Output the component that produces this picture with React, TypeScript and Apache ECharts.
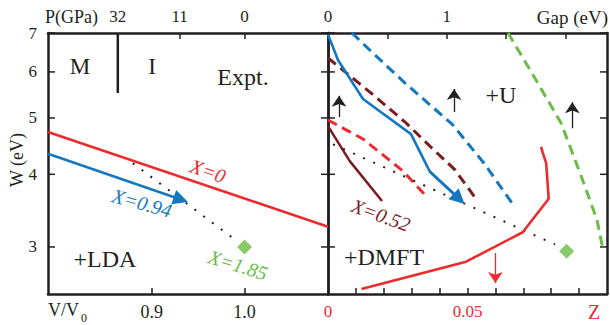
import React, { useEffect, useRef } from "react";
import * as echarts from "echarts";

// ---------- axes ----------
const VV_RANGE = [0.788, 1.09];
const VV_TICKS = [0.9, 1.0];
const P_LABELS = ["32", "11", "0"];
const P_AT_VV = [0.8633, 0.93, 1.0];
const P_TICKS_VV = [0.93, 1.0];
const W_RANGE = [2.49, 7];
const W_TICKS = [3, 4, 5, 6, 7];
const GAP_RANGE = [0, 2.35];
const GAP_TICKS = [0.5, 1, 1.5, 2];
const GAP_LABELS = [0, 1];
const Z_RANGE = [0, 0.1];
const Z_TICKS = [0.01, 0.02, 0.03, 0.04, 0.05, 0.06, 0.07, 0.08, 0.09];
const Z_LABELS = [0, 0.05];

// ---------- left panel (LDA, V/V0) ----------
const LDA_X0_VV = [0.788, 1.09];
const LDA_X0_W = [4.73, 3.25];
const LDA_X094_VV = [0.788, 0.9313];
const LDA_X094_W = [4.34, 3.62];
const LDA_TREND_VV = [0.8795, 0.9906];
const LDA_TREND_W = [4.18, 3.08];
const EXPT_VV = [1.0];
const EXPT_VV_W = [3.0];
const MI_VV = [0.8633, 0.8633];
const MI_W = [7, 5.52];

// ---------- right panel (gap / Z) ----------
const DMFT_X094_GAP = [0, 0.084, 0.295, 0.699, 0.859, 1.104];
const DMFT_X094_W = [6.96, 6.29, 5.39, 4.69, 4.04, 3.63];
const U_X094_GAP = [0.202, 0.37, 0.649, 1.045, 1.314, 1.575];
const U_X094_W = [7.0, 6.49, 5.74, 4.88, 4.18, 3.51];
const U_X185_GAP = [1.516, 1.727, 1.963, 2.123, 2.266, 2.317];
const U_X185_W = [7.0, 5.93, 4.9, 4.02, 3.34, 2.96];
const U_X052_GAP = [0, 0.042, 0.371, 0.649, 0.859, 1.07, 1.238];
const U_X052_W = [6.34, 6.24, 5.5, 4.92, 4.47, 4.07, 3.65];
const DMFT_X052_GAP = [0, 0.185, 0.455];
const DMFT_X052_W = [4.84, 4.21, 3.6];
const U_X0_GAP = [0, 0.16, 0.295, 0.463, 0.632, 0.842];
const U_X0_W = [4.96, 4.76, 4.6, 4.32, 4.05, 3.64];
const U_X0_NEG_GAP = [-0.11, 0];
const U_X0_NEG_W = [5.06, 4.96];
const TREND_GAP = [-0.126, 1.912];
const TREND_GAP_W = [4.67, 3.03];
const EXPT_GAP = [2.01];
const EXPT_GAP_W = [2.95];
const DMFT_X0_Z = [0.012, 0.0495, 0.0698, 0.0791, 0.0782, 0.077, 0.0764];
const DMFT_X0_W = [2.54, 2.83, 3.18, 3.63, 4.18, 4.35, 4.46];
const UP_ARROW_GAP = [0.093, 1.062, 2.058];
const UP_ARROW_FROM_W = [5.02, 5.12, 4.8];
const UP_ARROW_TO_W = [5.46, 5.61, 5.32];
const Z_ARROW = [0.06, 0.06];
const Z_ARROW_W = [2.93, 2.6];

// ---------- styles ----------
const RED = "#ec2b2f";
const BLUE = "#1477c0";
const GREEN = "#6abd45";
const MAROON = "#7b1b1f";
const INK = "#231f20";
const SERIF = "Liberation Serif";
const DASH = [10, 6];
const DOT = [2, 9];

const pairs = (xs: number[], ys: number[]) => xs.map((x, i) => [x, ys[i]]);

const line = (xi: number, yi: number, xs: number[], ys: number[], color: string, width: number, type: any, extra: any = {}) => ({
  type: "line",
  xAxisIndex: xi,
  yAxisIndex: yi,
  data: pairs(xs, ys),
  symbol: "none",
  showSymbol: false,
  silent: true,
  z: 3,
  lineStyle: { color, width, type, cap: "butt" },
  ...extra,
});

const arrows = (xi: number, yi: number, segs: number[][][], color: string, width: number, symbol: string, size: any) => ({
  type: "lines",
  coordinateSystem: "cartesian2d",
  xAxisIndex: xi,
  yAxisIndex: yi,
  symbol: ["none", symbol],
  symbolSize: size,
  silent: true,
  z: 4,
  lineStyle: { color, width, opacity: 1, curveness: 0 },
  data: segs.map((c) => ({ coords: c })),
});

const diamond = (xi: number, yi: number, xs: number[], ys: number[]) => ({
  type: "scatter",
  xAxisIndex: xi,
  yAxisIndex: yi,
  data: pairs(xs, ys),
  symbol: "diamond",
  symbolSize: 15,
  silent: true,
  z: 5,
  itemStyle: { color: GREEN },
});

const axisLine = { show: true, onZero: false, lineStyle: { color: INK, width: 2.5 } };
const tickStyle = { color: INK, width: 1.5 };

const yTicks = (xi: number, yi: number, xMin: number, xMax: number, withLabels: boolean) => ({
  type: "custom",
  xAxisIndex: xi,
  yAxisIndex: yi,
  clip: false,
  silent: true,
  z: 10,
  data: W_TICKS.map((w) => [xMin, w]),
  encode: { x: 0, y: 1 },
  renderItem: (params: any, api: any) => {
    const w = api.value(1);
    const pL = api.coord([xMin, w]);
    const pR = api.coord([xMax, w]);
    const children: any[] = [
      { type: "line", shape: { x1: pL[0], y1: pL[1], x2: pL[0] + 7, y2: pL[1] }, style: { stroke: INK, lineWidth: 1.5 } },
      { type: "line", shape: { x1: pR[0] - 7, y1: pR[1], x2: pR[0], y2: pR[1] }, style: { stroke: INK, lineWidth: 1.5 } },
    ];
    if (withLabels) {
      children.push({
        type: "text",
        x: pL[0] - 11,
        y: pL[1],
        style: { text: String(w), align: "right", verticalAlign: "middle", fontSize: 17, fontFamily: SERIF, fill: INK },
      });
    }
    return { type: "group", children };
  },
});

const txt = (text: string, x: number, y: number, o: any = {}) => ({
  type: "text",
  x,
  y,
  rotation: o.rotation || 0,
  z: 100,
  silent: true,
  style: {
    text,
    fill: o.color || INK,
    fontSize: o.size || 18,
    fontFamily: SERIF,
    fontStyle: o.italic ? "italic" : "normal",
    align: o.align || "center",
    verticalAlign: "middle",
  },
});

const option: any = {
  animation: false,
  backgroundColor: "#ffffff",
  textStyle: { fontFamily: SERIF },
  grid: [
    { left: 48, top: 33, width: 280, height: 261 },
    { left: 328, top: 33, width: 279, height: 261 },
  ],
  xAxis: [
    {
      gridIndex: 0, type: "value", position: "bottom", min: VV_RANGE[0], max: VV_RANGE[1],
      axisLine, splitLine: { show: false },
      axisTick: { show: true, inside: true, length: 6, customValues: VV_TICKS, lineStyle: tickStyle },
      axisLabel: { customValues: VV_TICKS, formatter: (v: number) => v.toFixed(1), margin: 9, color: INK, fontSize: 18, fontFamily: SERIF },
    },
    {
      gridIndex: 0, type: "value", position: "top", min: VV_RANGE[0], max: VV_RANGE[1],
      axisLine, splitLine: { show: false },
      axisTick: { show: true, inside: true, length: 6, customValues: P_TICKS_VV, lineStyle: tickStyle },
      axisLabel: {
        customValues: P_AT_VV,
        formatter: (v: number) => P_LABELS[P_AT_VV.findIndex((p) => Math.abs(p - v) < 1e-6)] ?? "",
        margin: 8, color: INK, fontSize: 17, fontFamily: SERIF,
      },
    },
    {
      gridIndex: 1, type: "value", position: "top", min: GAP_RANGE[0], max: GAP_RANGE[1],
      axisLine, splitLine: { show: false },
      axisTick: { show: true, inside: true, length: 6, customValues: GAP_TICKS, lineStyle: tickStyle },
      axisLabel: { customValues: GAP_LABELS, formatter: (v: number) => String(v), margin: 8, color: INK, fontSize: 17, fontFamily: SERIF },
    },
    {
      gridIndex: 1, type: "value", position: "bottom", min: Z_RANGE[0], max: Z_RANGE[1],
      axisLine, splitLine: { show: false },
      axisTick: { show: true, inside: true, length: 6, customValues: Z_TICKS, lineStyle: tickStyle },
      axisLabel: { customValues: Z_LABELS, formatter: (v: number) => (v === 0 ? "0" : v.toFixed(2)), margin: 9, color: RED, fontSize: 17, fontFamily: SERIF },
    },
  ],
  yAxis: [0, 0, 1, 1].map((g, i) => ({
    gridIndex: g, type: "log", position: i % 2 === 0 ? "left" : "right", min: W_RANGE[0], max: W_RANGE[1],
    axisLine, axisTick: { show: false }, axisLabel: { show: false }, splitLine: { show: false },
  })),
  series: [
    // left panel
    line(0, 0, MI_VV, MI_W, INK, 2.5, "solid"),
    line(0, 0, LDA_X0_VV, LDA_X0_W, RED, 2.6, "solid"),
    arrows(0, 0, [pairs(LDA_X094_VV, LDA_X094_W)], BLUE, 2.6, "triangle", 15),
    line(0, 0, LDA_TREND_VV, LDA_TREND_W, INK, 2, DOT),
    diamond(0, 0, EXPT_VV, EXPT_VV_W),
    // right panel, gap axis
    line(2, 2, U_X094_GAP, U_X094_W, BLUE, 3, DASH),
    line(2, 2, U_X185_GAP, U_X185_W, GREEN, 3, DASH),
    line(2, 2, U_X052_GAP, U_X052_W, MAROON, 3, DASH),
    line(2, 2, U_X0_GAP, U_X0_W, RED, 3, DASH),
    line(2, 2, U_X0_NEG_GAP, U_X0_NEG_W, RED, 2, DOT, { clip: false }),
    line(2, 2, DMFT_X052_GAP, DMFT_X052_W, MAROON, 2.5, "solid"),
    line(2, 2, DMFT_X094_GAP, DMFT_X094_W, BLUE, 2.6, "solid"),
    arrows(2, 2, [pairs(DMFT_X094_GAP.slice(-2), DMFT_X094_W.slice(-2))], BLUE, 2.6, "triangle", 15),
    line(2, 2, TREND_GAP, TREND_GAP_W, INK, 2, DOT, { clip: false }),
    diamond(2, 2, EXPT_GAP, EXPT_GAP_W),
    arrows(2, 2, UP_ARROW_GAP.map((g, i) => [[g, UP_ARROW_FROM_W[i]], [g, UP_ARROW_TO_W[i]]]), INK, 1.3, "arrow", [6, 11]),
    // right panel, Z axis
    line(3, 2, DMFT_X0_Z, DMFT_X0_W, RED, 2.6, "solid"),
    arrows(3, 2, [pairs(Z_ARROW, Z_ARROW_W)], RED, 1.3, "arrow", [6, 11]),
    // y ticks / labels
    yTicks(0, 0, VV_RANGE[0], VV_RANGE[1], true),
    yTicks(2, 2, GAP_RANGE[0], GAP_RANGE[1], false),
  ],
  graphic: [
    txt("P(GPa)", 45, 17, { align: "left", size: 18 }),
    txt("Gap (eV)", 608, 17, { align: "right", size: 19 }),
    txt("W (eV)", 17, 160, { rotation: Math.PI / 2, size: 18 }),
    txt("V/V", 48, 310, { align: "left", size: 18 }),
    txt("0", 81, 318, { align: "left", size: 12 }),
    txt("Z", 594, 312, { color: RED, size: 20 }),
    txt("M", 80, 66, { size: 23 }),
    txt("I", 152, 66, { size: 23 }),
    txt("Expt.", 243, 77, { size: 24 }),
    txt("+LDA", 105, 259, { size: 24 }),
    txt("+U", 501, 95, { size: 24 }),
    txt("+DMFT", 384, 257, { size: 24 }),
    txt("X=0", 208, 171, { italic: true, rotation: -0.33, color: RED, size: 20 }),
    txt("X=0.94", 142, 203, { italic: true, rotation: -0.27, color: BLUE, size: 20 }),
    txt("X=1.85", 238, 265, { italic: true, rotation: -0.3, color: GREEN, size: 20 }),
    txt("X=0.52", 381, 215, { italic: true, rotation: -0.35, color: MAROON, size: 20 }),
  ],
};

export default function App() {
  const ref = useRef<HTMLDivElement>(null);
  useEffect(() => {
    const chart = echarts.init(ref.current!, null, { renderer: "svg" });
    chart.setOption(option);
    return () => chart.dispose();
  }, []);
  return <div ref={ref} style={{ position: "absolute", left: 0, top: 0, width: 610, height: 325 }} />;
}
